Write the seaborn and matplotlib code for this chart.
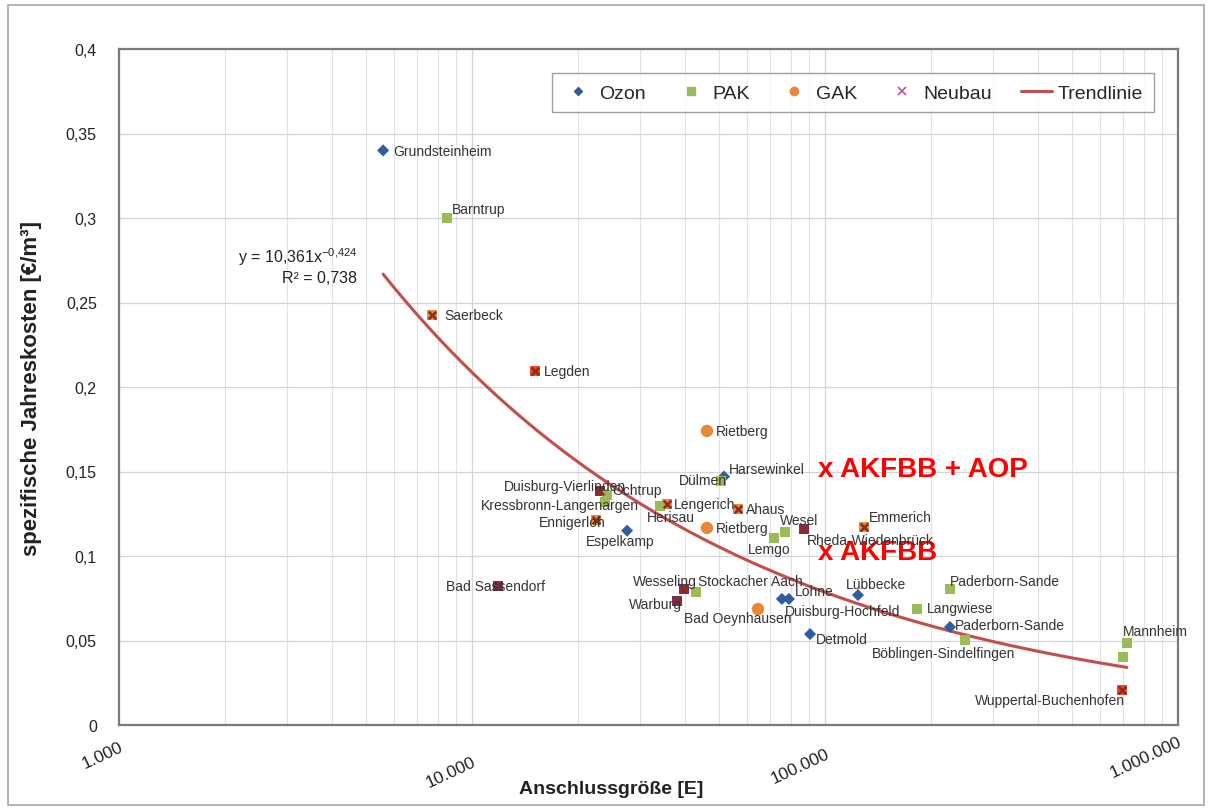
import numpy as np
import pandas as pd
import matplotlib
matplotlib.use("Agg")
import matplotlib.pyplot as plt
from matplotlib.lines import Line2D
from matplotlib.patches import Rectangle
from matplotlib.ticker import FuncFormatter, LogLocator, MultipleLocator
from matplotlib.transforms import offset_copy
import seaborn as sns

# ---- Ozon ----
ozon_orte = ["Grundsteinheim", "Harsewinkel", "Espelkamp", "Lohne", "Duisburg-Hochfeld",
             "Lübbecke", "Detmold", "Paderborn-Sande"]
ozon_E = [5600, 51750, 27500, 79000, 75500, 124000, 90700, 226000]
ozon_kosten = [0.340, 0.147, 0.115, 0.0746, 0.0746, 0.0769, 0.0538, 0.058]

# ---- PAK ----
pak_orte = ["Barntrup", "Ochtrup", "Kressbronn-Langenargen", "Herisau", "Dülmen", "Lemgo",
            "Wesel", "Stockacher Aach", "Paderborn-Sande", "Langwiese",
            "Böblingen-Sindelfingen", "Mannheim", ""]
pak_E = [8500, 24130, 23820, 34080, 50750, 71700, 77000, 43110, 226000, 182200,
         249200, 716900, 698600]
pak_kosten = [0.300, 0.136, 0.132, 0.1296, 0.1444, 0.1107, 0.1142, 0.0787, 0.0805,
              0.0686, 0.0503, 0.0485, 0.0402]

# ---- GAK ----
gak_orte = ["Rietberg", "Rietberg", "Bad Oeynhausen"]
gak_E = [46300, 46300, 64600]
gak_kosten = [0.174, 0.1166, 0.0686]

# ---- Neubau ----
neu_orte = ["Saerbeck", "Legden", "Duisburg-Vierlinden", "Ennigerloh", "Lengerich", "Ahaus",
            "Rheda-Wiedenbrück", "Emmerich", "Bad Sassendorf", "Wesseling", "Warburg",
            "Wuppertal-Buchenhofen"]
neu_E = [7700, 15090, 23050, 22450, 35680, 56680, 87200, 129000, 11850, 39860, 38080, 694000]
neu_kosten = [0.2426, 0.2095, 0.1385, 0.1213, 0.1308, 0.1278, 0.116, 0.1172, 0.0822,
              0.0805, 0.0734, 0.0207]
neu_stufe = ["AKFBB + AOP", "AKFBB", "Bestand", "AKFBB + AOP", "AKFBB + AOP", "AKFBB + AOP",
             "Bestand", "AKFBB + AOP", "Bestand", "Bestand", "Bestand", "AKFBB"]

# Trendline (power fit)
trend_a, trend_b = 10.361, -0.424
trend_r2 = 0.738

x_ticks = [1000, 10000, 100000, 1000000]
y_ticks = [0, 0.05, 0.1, 0.15, 0.2, 0.25, 0.3, 0.35, 0.4]

# ---- label offsets (pixels) and alignment ----
lab_ozon = [(10, -1, "left"), (5, 8, "left"), (-7, -10, "center"), (6, 8, "left"),
            (3, -12, "left"), (18, 11, "center"), (6, -5, "left"), (5, 2, "left")]
lab_pak = [(5, 9, "left"), (5, 5, "left"), (34, -3, "right"), (11, -11, "center"),
           (6, 1, "right"), (-5, -11, "center"), (-5, 12, "left"), (2, 11, "left"),
           (0, 8, "left"), (10, 1, "left"), (-21, -13, "center"), (28, 12, "center"),
           (0, 0, "left")]
lab_gak = [(9, 0, "left"), (9, 0, "left"), (-20, -9, "center")]
lab_neu = [(12, 0, "left"), (9, 0, "left"), (26, 5, "right"), (10, -2, "right"),
           (7, 0, "left"), (8, 0, "left"), (3, -11, "left"), (5, 10, "left"),
           (-2, 0, "center"), (13, 8, "right"), (5, -3, "right"), (3, -10, "right")]
# vertical shift of the rotated x tick labels (pixels)
xtick_shift = [0, -15, -7, 5]

col_ozon = "#2F5E9C"
col_pak = "#9BBB59"
col_gak = "#E8893A"
col_neu = "#C0508A"
col_trend = "#C0504D"
fill_neu = {"AKFBB + AOP": "#E0913C", "AKFBB": "#EE4A2A", "Bestand": "#7A2D6A"}

sns.set_theme(style="white")
plt.rcParams["font.family"] = ["Liberation Sans", "DejaVu Sans"]
plt.rcParams["mathtext.default"] = "regular"

df = pd.concat([
    pd.DataFrame({"E": ozon_E, "k": ozon_kosten, "Ort": ozon_orte, "Typ": "Ozon"}),
    pd.DataFrame({"E": pak_E, "k": pak_kosten, "Ort": pak_orte, "Typ": "PAK"}),
    pd.DataFrame({"E": gak_E, "k": gak_kosten, "Ort": gak_orte, "Typ": "GAK"}),
], ignore_index=True)
neu = pd.DataFrame({"E": neu_E, "k": neu_kosten, "Ort": neu_orte, "Stufe": neu_stufe})

fig = plt.figure(figsize=(12.11, 8.12), dpi=100)
ax = fig.add_axes([119 / 1211, 86 / 812, 1059 / 1211, 676 / 812])
ax.set_xscale("log")

# grid
ax.xaxis.set_major_locator(LogLocator(base=10, numticks=10))
ax.xaxis.set_minor_locator(LogLocator(base=10, subs=np.arange(2, 10), numticks=20))
ax.yaxis.set_major_locator(MultipleLocator(0.05))
ax.grid(which="major", color="#d4d4d4", lw=0.9)
ax.grid(which="minor", axis="x", color="#e2e2e2", lw=0.8)
ax.set_axisbelow(True)

# trend line
all_E = list(ozon_E) + list(pak_E) + list(gak_E) + list(neu_E)
xt = np.geomspace(min(all_E), max(all_E), 200)
trend = pd.DataFrame({"E": xt, "k": trend_a * xt ** trend_b})
sns.lineplot(data=trend, x="E", y="k", color=col_trend, lw=2.2, ax=ax, zorder=2)

# Neubau: coloured square with cross
sns.scatterplot(data=neu, x="E", y="k", hue="Stufe", palette=fill_neu, marker="s", s=60,
                edgecolor="none", legend=False, ax=ax, zorder=3)
sns.scatterplot(data=neu, x="E", y="k", marker="x", color="#8E2A1E", s=30, linewidth=1.8,
                legend=False, ax=ax, zorder=4)

# Ozon / PAK / GAK
sns.scatterplot(data=df, x="E", y="k", hue="Typ", style="Typ", size="Typ",
                palette={"Ozon": col_ozon, "PAK": col_pak, "GAK": col_gak},
                markers={"Ozon": "D", "PAK": "s", "GAK": "o"},
                sizes={"Ozon": 38, "PAK": 55, "GAK": 80},
                edgecolor="none", legend=False, ax=ax, zorder=3)

# point labels
def labels(orte, xs, ys, offs):
    for o, x, y, (dx, dy, ha) in zip(orte, xs, ys, offs):
        if o:
            ax.annotate(o, (x, y), xytext=(dx, dy), textcoords="offset pixels",
                        ha=ha, va="center", fontsize=10, color="#333333", zorder=5)

labels(ozon_orte, ozon_E, ozon_kosten, lab_ozon)
labels(pak_orte, pak_E, pak_kosten, lab_pak)
labels(gak_orte, gak_E, gak_kosten, lab_gak)
labels(neu_orte, neu_E, neu_kosten, lab_neu)

# trend equation
ax.text(0.225, 0.694, r"y = 10,361x$^{-0{,}424}$", transform=ax.transAxes, ha="right",
        va="center", fontsize=11.5, color="#222222")
ax.text(0.225, 0.662, "R² = 0,738", transform=ax.transAxes, ha="right", va="center",
        fontsize=11.5, color="#222222")

# annotations
ax.text(0.660, 0.379, "x AKFBB + AOP", transform=ax.transAxes, ha="left", va="center",
        fontsize=20, fontweight="bold", color="#FF0000")
ax.text(0.660, 0.256, "x AKFBB", transform=ax.transAxes, ha="left", va="center",
        fontsize=20, fontweight="bold", color="#FF0000")

# axes
ax.set_xlim(1000, 1000000)
ax.set_ylim(0, 0.4)
ax.set_xticks(x_ticks)
ax.set_yticks(y_ticks)
ax.xaxis.set_major_formatter(FuncFormatter(lambda v, p: f"{int(round(v)):,}".replace(",", ".")))
ax.xaxis.set_minor_formatter(FuncFormatter(lambda v, p: ""))
ax.yaxis.set_major_formatter(FuncFormatter(lambda v, p: f"{v:g}".replace(".", ",")))
ax.tick_params(axis="both", which="both", length=0, colors="#222222")
ax.tick_params(axis="y", pad=16, labelsize=11.5)
ax.tick_params(axis="x", pad=10, labelsize=12.5)
fig.canvas.draw()
for lbl, sh in zip(ax.get_xticklabels(), xtick_shift):
    lbl.set_rotation(25)
    lbl.set_ha("right")
    lbl.set_va("top")
    lbl.set_rotation_mode("anchor")
    lbl.set_transform(offset_copy(lbl.get_transform(), fig=fig, x=0, y=sh, units="dots"))

ax.set_xlabel("Anschlussgröße [E]", fontsize=14, fontweight="bold", color="#222222")
ax.set_ylabel("spezifische Jahreskosten [€/m³]", fontsize=16, fontweight="bold",
              color="#222222")
ax.xaxis.set_label_coords(0.4646, -0.082)
ax.yaxis.set_label_coords(-0.0727, 0.5)

for s in ax.spines.values():
    s.set_color("#7a7a7a")
    s.set_linewidth(1.6)

# legend
handles = [
    Line2D([], [], ls="none", marker="D", ms=4.5, color=col_ozon, label="Ozon"),
    Line2D([], [], ls="none", marker="s", ms=5.5, color=col_pak, label="PAK"),
    Line2D([], [], ls="none", marker="o", ms=6, color=col_gak, label="GAK"),
    Line2D([], [], ls="none", marker="x", ms=6, mew=1.2, color=col_neu, label="Neubau"),
    Line2D([], [], color=col_trend, lw=2.2, label="Trendlinie"),
]
leg = ax.legend(handles=handles, loc="center", bbox_to_anchor=(0.693, 0.935),
                ncol=5, fontsize=14, frameon=True, fancybox=False,
                handlelength=1.6, handletextpad=0.3, borderpad=0.55, columnspacing=1.5)
leg.get_frame().set_edgecolor("#8a8a8a")
leg.get_frame().set_linewidth(1.0)
leg.set_zorder(6)

# outer chart border
fig.patches.append(Rectangle((8 / 1211, 6 / 812), 1196 / 1211, 800 / 812,
                             transform=fig.transFigure, fill=False, edgecolor="#a6a6a6", lw=1.2))

fig.savefig("out.png", dpi=100)
